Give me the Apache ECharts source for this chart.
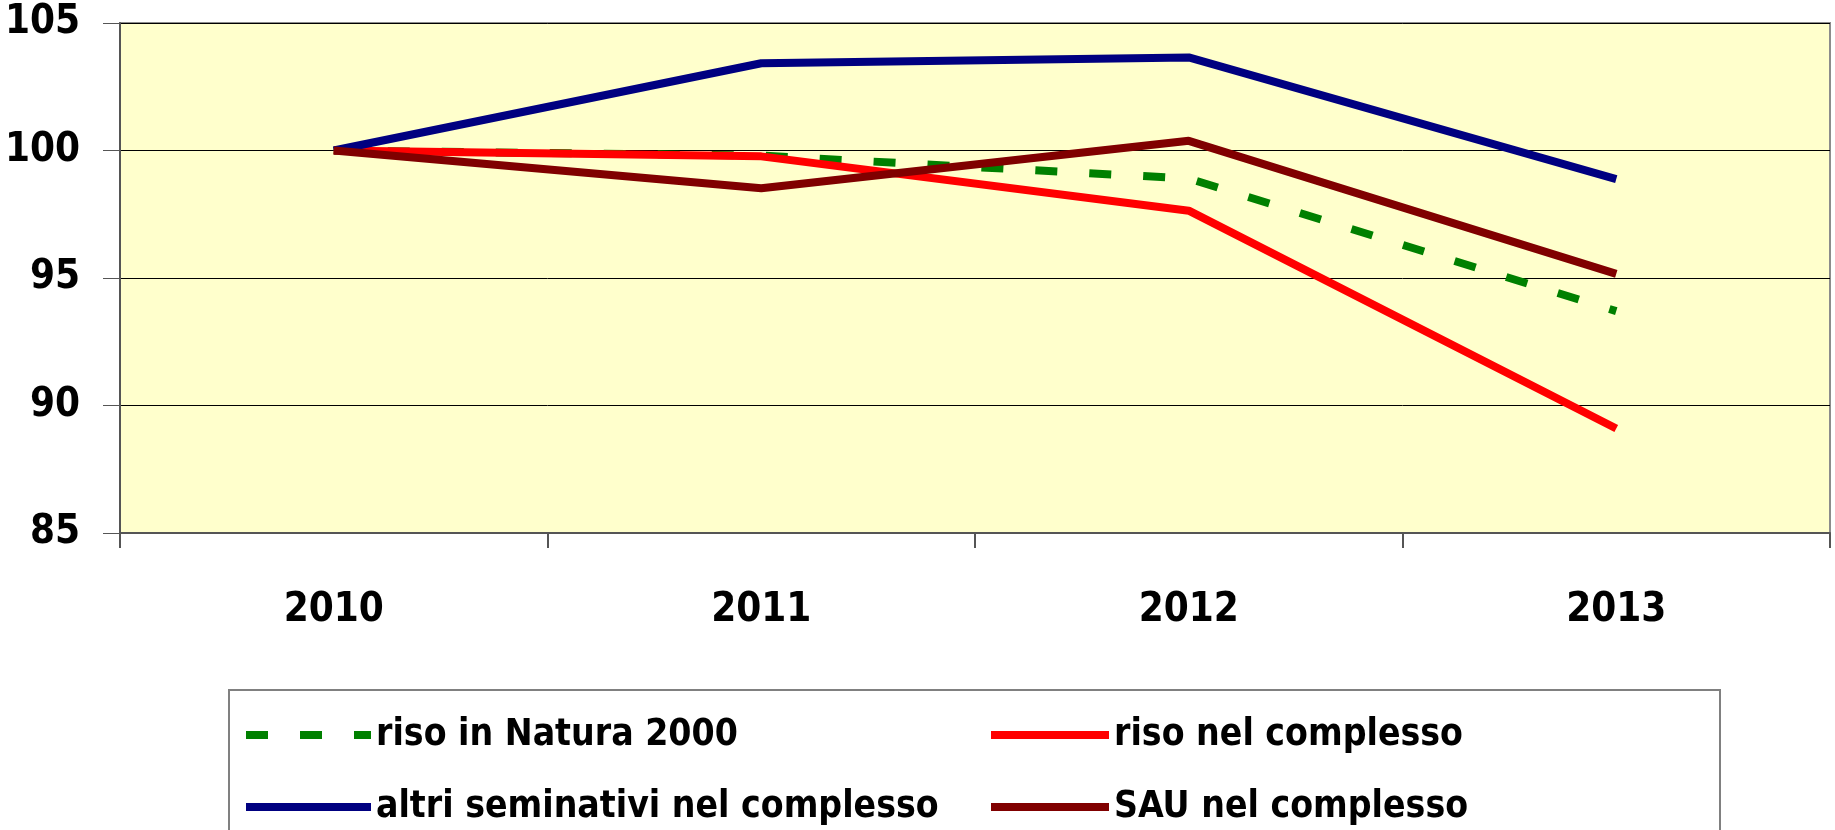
<!DOCTYPE html>
<html>
<head>
<meta charset="utf-8">
<title>Riso e seminativi</title>
<script src="https://cdn.jsdelivr.net/npm/echarts@6/dist/echarts.min.js"></script>
<style>
  html, body { margin: 0; padding: 0; background: #fff; }
  #chart { width: 1835px; height: 830px; }
</style>
</head>
<body>
<div id="chart"></div>
<script>
var years = ['2010', '2011', '2012', '2013'];
var risoNatura = [100, 99.8, 98.9, 93.7];
var risoTotale = [100, 99.77, 97.64, 89.1];
var altriSeminativi = [100, 103.42, 103.65, 98.88];
var sauTotale = [100, 98.52, 100.38, 95.16];

var fontName = '"DejaVu Sans Condensed", sans-serif';

var legendText = { color: '#000', fontSize: 37, lineHeight: 40, fontWeight: 'bold', fontFamily: fontName };

var chart = echarts.init(document.getElementById('chart'));
chart.setOption({
  animation: false,
  grid: {
    left: 120, top: 23, right: 5, height: 510,
    show: true,
    backgroundColor: '#FFFFCC',
    borderColor: '#8c8c8c',
    borderWidth: 2
  },
  xAxis: {
    type: 'category',
    data: years,
    boundaryGap: true,
    axisLine: { lineStyle: { color: '#555', width: 2 } },
    axisTick: { show: true, length: 15, inside: false, lineStyle: { color: '#555', width: 2 } },
    axisLabel: { margin: 58, color: '#000', fontSize: 40, fontWeight: 'bold', fontFamily: fontName }
  },
  yAxis: {
    type: 'value',
    min: 85, max: 105, interval: 5,
    axisLine: { show: true, lineStyle: { color: '#555', width: 2 } },
    axisTick: { show: true, length: 17, lineStyle: { color: '#555', width: 1 } },
    splitLine: { lineStyle: { color: '#000', width: 1 } },
    axisLabel: { margin: 40, color: '#000', fontSize: 40, fontWeight: 'bold', fontFamily: fontName }
  },
  graphic: [{
    type: 'rect',
    left: 228, top: 689,
    shape: { width: 1491, height: 200 },
    style: { fill: '#fff', stroke: '#808080', lineWidth: 2 },
    z: -1
  }],
  legend: [{
    orient: 'vertical',
    left: 242, top: 715, padding: 0,
    itemWidth: 125, itemHeight: 10, itemGap: 32,
    lineStyle: { width: 8 },
    itemStyle: { opacity: 0 },
    data: ['riso in Natura 2000', 'altri seminativi nel complesso'],
    textStyle: legendText
  }, {
    orient: 'vertical',
    left: 987, top: 715, padding: 0,
    itemWidth: 118, itemHeight: 10, itemGap: 32,
    lineStyle: { width: 8 },
    itemStyle: { opacity: 0 },
    data: ['riso nel complesso', 'SAU nel complesso'],
    textStyle: legendText
  }],
  series: [{
    name: 'riso in Natura 2000',
    type: 'line',
    data: risoNatura,
    showSymbol: false, symbol: 'none',
    lineStyle: { color: '#008000', width: 8, type: [22, 32], cap: 'butt' },
    itemStyle: { color: '#008000' },
    z: 3
  }, {
    name: 'riso nel complesso',
    type: 'line',
    data: risoTotale,
    showSymbol: false, symbol: 'none',
    lineStyle: { color: '#FF0000', width: 8 },
    itemStyle: { color: '#FF0000' },
    z: 4
  }, {
    name: 'altri seminativi nel complesso',
    type: 'line',
    data: altriSeminativi,
    showSymbol: false, symbol: 'none',
    lineStyle: { color: '#000080', width: 8 },
    itemStyle: { color: '#000080' },
    z: 5
  }, {
    name: 'SAU nel complesso',
    type: 'line',
    data: sauTotale,
    showSymbol: false, symbol: 'none',
    lineStyle: { color: '#800000', width: 8 },
    itemStyle: { color: '#800000' },
    z: 6
  }]
});
</script>
</body>
</html>
